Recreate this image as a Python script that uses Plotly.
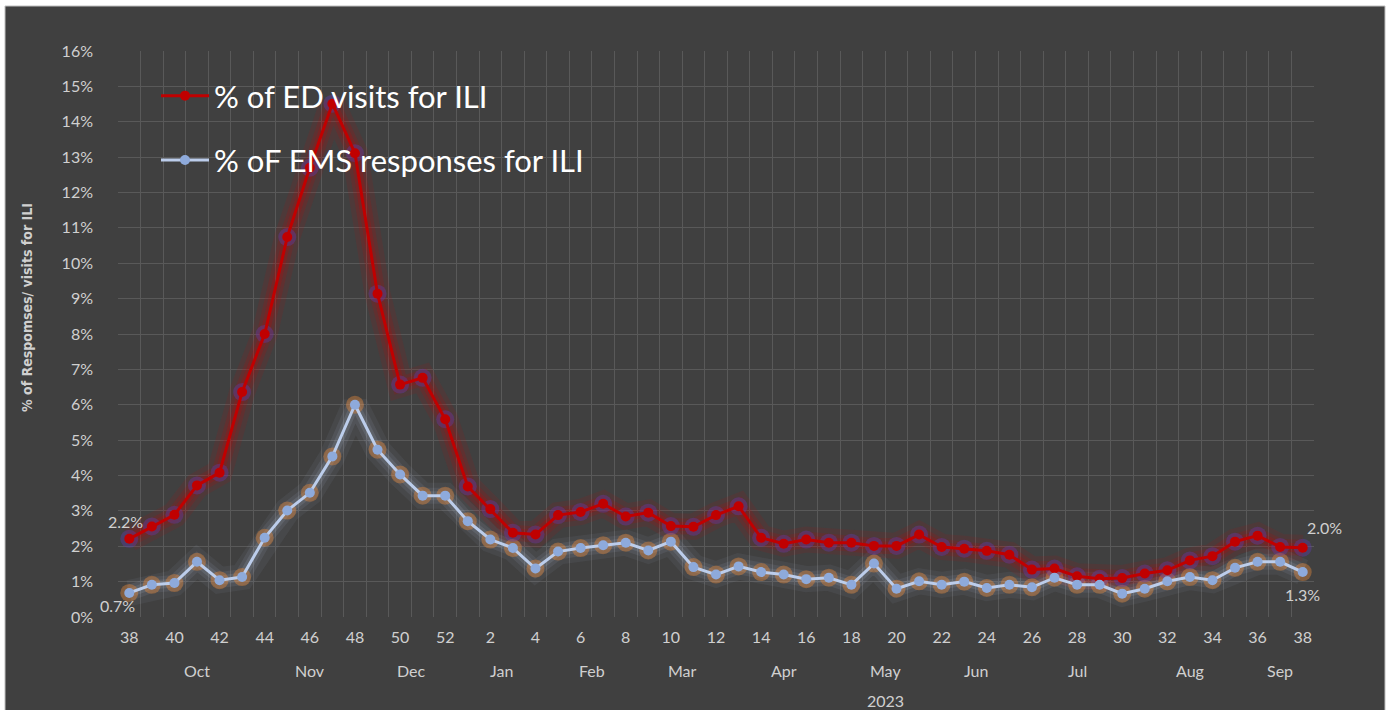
import plotly.graph_objects as go

# ---------------- data ----------------
weeks = [38, 39, 40, 41, 42, 43, 44, 45, 46, 47, 48, 49, 50, 51, 52,
         1, 2, 3, 4, 5, 6, 7, 8, 9, 10, 11, 12, 13, 14, 15, 16, 17, 18, 19,
         20, 21, 22, 23, 24, 25, 26, 27, 28, 29, 30, 31, 32, 33, 34, 35, 36, 37, 38]
months = ([""] + ["Oct"] * 5 + ["Nov"] * 5 + ["Dec"] * 4 + ["Jan"] * 4 + ["Feb"] * 4 +
          ["Mar"] * 4 + ["Apr"] * 5 + ["May"] * 4 + ["Jun"] * 4 + ["Jul"] * 5 +
          ["Aug"] * 5 + ["Sep"] * 3)
years = [""] * 15 + ["2023"] * 38

ed_pct = [2.21, 2.56, 2.89, 3.72, 4.08, 6.36, 8.00, 10.74, 12.70, 14.51, 13.11, 9.14, 6.57, 6.76, 5.59,
          3.69, 3.05, 2.38, 2.33, 2.88, 2.97, 3.20, 2.84, 2.95, 2.57, 2.55, 2.88, 3.13, 2.24, 2.07,
          2.19, 2.10, 2.10, 2.01, 2.01, 2.33, 1.98, 1.93, 1.87, 1.76, 1.34, 1.37, 1.15, 1.08, 1.10,
          1.23, 1.32, 1.60, 1.72, 2.13, 2.30, 1.98, 1.96]
ems_pct = [0.68, 0.91, 0.96, 1.56, 1.04, 1.13, 2.24, 3.01, 3.51, 4.54, 6.00, 4.73, 4.03, 3.43, 3.43,
           2.71, 2.19, 1.95, 1.37, 1.85, 1.95, 2.03, 2.10, 1.88, 2.13, 1.41, 1.20, 1.43, 1.27, 1.20,
           1.07, 1.11, 0.91, 1.51, 0.80, 1.01, 0.91, 1.00, 0.82, 0.91, 0.84, 1.11, 0.91, 0.91, 0.66,
           0.80, 1.01, 1.13, 1.04, 1.39, 1.56, 1.56, 1.27]

series_names = ["% of ED visits for ILI", "% oF EMS responses for ILI"]
y_title = "% of Respomses/ visits for ILI"

# ---------------- figure ----------------
W, H = 1388, 710
ML, MR, MT, MB = 118, 74, 51, 93
PW, PH = W - ML - MR, H - MT - MB

x = list(range(len(weeks)))
ed = [v / 100 for v in ed_pct]
ems = [v / 100 for v in ems_pct]

FONT = "Lato, 'Open Sans', sans-serif"
TXT = "#D0D0D0"
RED = "#C00000"
BLUE_LINE = "#BCCDEB"
BLUE_MK = "#8EAADB"

fig = go.Figure()

# glow layers
for yy, rgb, alphas in [(ems, "175,190,215", (0.07, 0.10, 0.14)),
                        (ed, "205,0,0", (0.10, 0.14, 0.20))]:
    for w, a in zip((26, 16, 9), alphas):
        fig.add_trace(go.Scatter(x=x, y=yy, mode="lines",
                                 line=dict(color=f"rgba({rgb},{a})", width=w),
                                 showlegend=False, hoverinfo="skip"))
fig.add_trace(go.Scatter(x=x, y=ems, mode="markers",
                         marker=dict(color="rgba(235,140,60,0.40)", size=18, line=dict(width=0)),
                         showlegend=False, hoverinfo="skip"))
fig.add_trace(go.Scatter(x=x, y=ed, mode="markers",
                         marker=dict(color="rgba(95,60,170,0.40)", size=18, line=dict(width=0)),
                         showlegend=False, hoverinfo="skip"))

# main series
fig.add_trace(go.Scatter(x=x, y=ed, mode="lines+markers", name=series_names[0], legendgroup="a",
                         line=dict(color=RED, width=3),
                         marker=dict(color=RED, size=10)))
fig.add_trace(go.Scatter(x=x, y=ems, mode="lines+markers", name=series_names[1], legendgroup="b",
                         line=dict(color=BLUE_LINE, width=3),
                         marker=dict(color=BLUE_MK, size=10)))


def px_x(p):
    return (p - ML) / PW


def px_y(p):
    return (H - MB - p) / PH


# background panel with border
fig.add_shape(type="rect", xref="paper", yref="paper",
              x0=px_x(5), x1=px_x(1385), y0=px_y(712), y1=px_y(6),
              fillcolor="#404040", line=dict(color="#BFBFBF", width=1), layer="below")

annotations = []


def group_labels(labels, ypx):
    out = []
    i = 0
    while i < len(labels):
        j = i
        while j + 1 < len(labels) and labels[j + 1] == labels[i]:
            j += 1
        if labels[i]:
            out.append(dict(x=(i + j) / 2, xref="x", y=px_y(ypx), yref="paper",
                            xanchor="center", yanchor="middle",
                            text=labels[i], showarrow=False,
                            font=dict(family=FONT, size=16, color=TXT)))
        i = j + 1
    return out


annotations += group_labels(months, 670)
annotations += group_labels(years, 700)

# data labels
lab_font = dict(family=FONT, size=16, color=TXT)
annotations += [
    dict(x=x[0], y=ed[0], text=f"{ed_pct[0]:.1f}%", showarrow=False, xshift=-4, yshift=17, font=lab_font),
    dict(x=x[0], y=ems[0], text=f"{ems_pct[0]:.1f}%", showarrow=False, xshift=-12, yshift=-13, font=lab_font),
    dict(x=x[-1], y=ed[-1], text=f"{ed_pct[-1]:.1f}%", showarrow=False, xshift=22, yshift=20, font=lab_font),
    dict(x=x[-1], y=ems[-1], text=f"{ems_pct[-1]:.1f}%", showarrow=False, yshift=-22, font=lab_font),
]
# y axis title
annotations.append(dict(x=px_x(27), y=px_y(308), xref="paper", yref="paper",
                        xanchor="center", yanchor="middle", text=f"<b>{y_title}</b>",
                        textangle=-90, showarrow=False,
                        font=dict(family="'Liberation Sans Narrow', 'DejaVu Sans Condensed', sans-serif",
                                  size=14, color=TXT)))

fig.update_layout(
    width=W, height=H,
    margin=dict(l=ML, r=MR, t=MT, b=MB),
    paper_bgcolor="#FFFFFF",
    plot_bgcolor="#404040",
    annotations=annotations,
    legend=dict(x=px_x(156), y=px_y(69), xanchor="left", yanchor="top",
                bgcolor="rgba(0,0,0,0)", font=dict(family=FONT, size=31, color="#FFFFFF"),
                itemwidth=48, tracegroupgap=21, traceorder="grouped"),
    xaxis=dict(range=[-0.5, len(weeks) - 0.5], tickmode="array",
               tickvals=x[::2], ticktext=[str(w) for w in weeks[::2]],
               showgrid=False, zeroline=False, showline=False, ticks="",
               ticklabelstandoff=9,
               tickfont=dict(family=FONT, size=16, color=TXT),
               minor=dict(tick0=-0.5, dtick=1, showgrid=True, gridcolor="#595959", gridwidth=1, ticks="")),
    yaxis=dict(range=[0, 0.16], dtick=0.01, tickformat=".0%", showgrid=True,
               gridcolor="#595959", gridwidth=1, zeroline=False, showline=False, ticks="",
               ticklabelstandoff=24,
               tickfont=dict(family=FONT, size=16, color=TXT)),
    showlegend=True,
)

fig.write_html("out.html", config={"displayModeBar": False},
               post_script="document.body.style.margin='0';")
